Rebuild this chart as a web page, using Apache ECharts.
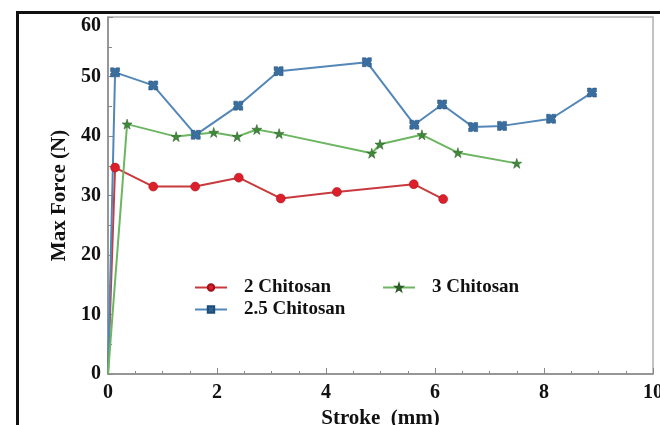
<!DOCTYPE html>
<html>
<head>
<meta charset="utf-8">
<script src="https://cdn.jsdelivr.net/npm/echarts@6/dist/echarts.min.js"></script>
<style>
  html, body { margin: 0; padding: 0; background: #fff; }
  #chart { width: 660px; height: 425px; }
</style>
</head>
<body>
<div id="chart"></div>
<script>
// stroke (mm) and max force (N)
const strokeA = [0, 0.13, 0.83, 1.6, 2.4, 3.17, 4.2, 5.61, 6.15];
const forceA = [0, 34.7, 31.5, 31.5, 33.0, 29.5, 30.6, 31.9, 29.4];

const strokeB = [0, 0.13, 0.83, 1.61, 2.39, 3.13, 4.75, 5.62, 6.13, 6.7, 7.23, 8.13, 8.88];
const forceB = [0, 50.7, 48.5, 40.2, 45.1, 50.9, 52.4, 41.9, 45.3, 41.5, 41.7, 42.9, 47.3];

const strokeC = [0, 0.35, 1.25, 1.94, 2.37, 2.73, 3.14, 4.84, 4.99, 5.76, 6.42, 7.5];
const forceC = [0, 42.0, 39.9, 40.6, 39.9, 41.1, 40.4, 37.1, 38.6, 40.2, 37.2, 35.4];

const seriesNames = ['2 Chitosan', '2.5 Chitosan', '3 Chitosan'];

const pairs = (xs, ys) => xs.map((x, i) => [x, ys[i]]);

const FONT = '"Liberation Serif", "Times New Roman", serif';
const xBox = 'path://M0,0 L4,0 L5,1.5 L6,0 L10,0 L10,4 L8.5,5 L10,6 L10,10 L6,10 L5,8.5 L4,10 L0,10 L0,6 L1.5,5 L0,4 Z';
const star = 'path://M5,0 L6.2,3.6 L10,3.6 L7,5.9 L8.1,9.5 L5,7.3 L1.9,9.5 L3,5.9 L0,3.6 L3.8,3.6 Z';

const chart = echarts.init(document.getElementById('chart'));

const legendText = {
  fontFamily: FONT,
  fontWeight: 'bold',
  fontSize: 19,
  lineHeight: 19,
  color: '#111',
  padding: [0, 0, 0, 12]
};

const option = {
  backgroundColor: '#fff',
  animation: false,
  grid: {
    left: 108,
    right: 7,
    top: 17,
    bottom: 51,
    outerBoundsMode: 'none',
    show: true,
    borderColor: '#b0b0b0',
    borderWidth: 1.5
  },
  legend: [
    {
      data: [seriesNames[0], seriesNames[1]],
      orient: 'vertical',
      left: 189,
      top: 273,
      itemWidth: 32,
      itemHeight: 8,
      itemGap: 3,
      textStyle: legendText
    },
    {
      data: [seriesNames[2]],
      orient: 'vertical',
      left: 377,
      top: 273,
      itemWidth: 32,
      itemHeight: 8,
      textStyle: legendText
    }
  ],
  xAxis: {
    type: 'value',
    min: 0,
    max: 10,
    interval: 2,
    name: 'Stroke  (mm)',
    nameLocation: 'middle',
    nameGap: 27,
    nameTextStyle: { fontFamily: FONT, fontWeight: 'bold', fontSize: 21, color: '#111' },
    axisLine: { lineStyle: { color: '#888', width: 1.5 } },
    axisTick: { inside: true, length: 6, lineStyle: { color: '#888' } },
    minorTick: { show: true, splitNumber: 4, length: 3, lineStyle: { color: '#888' } },
    splitLine: { show: false },
    axisLabel: { fontFamily: FONT, fontWeight: 'bold', fontSize: 20, color: '#111', margin: 9 }
  },
  yAxis: {
    type: 'value',
    min: 0,
    max: 60,
    interval: 10,
    name: 'Max Force (N)',
    nameLocation: 'middle',
    nameGap: 37,
    nameTextStyle: { fontFamily: FONT, fontWeight: 'bold', fontSize: 21, color: '#111' },
    axisLine: { show: true, lineStyle: { color: '#888', width: 1.5 } },
    axisTick: { show: true, inside: true, length: 5, lineStyle: { color: '#888' } },
    minorTick: { show: true, splitNumber: 2, length: 4, lineStyle: { color: '#888' } },
    splitLine: { show: false },
    axisLabel: {
      fontFamily: FONT,
      fontWeight: 'bold',
      fontSize: 20,
      color: '#111',
      margin: 7,
      // top label sits a little lower in the original
      formatter: (v) => (v === 60 ? '{t|60}' : String(v)),
      rich: { t: { fontFamily: FONT, fontWeight: 'bold', fontSize: 20, color: '#111', padding: [18, 0, 0, 0] } }
    }
  },
  graphic: [
    {
      type: 'rect',
      left: 15,
      top: 10,
      shape: { width: 660, height: 440 },
      style: { fill: 'none', stroke: '#111', lineWidth: 3 },
      silent: true
    }
  ],
  series: [
    {
      name: seriesNames[0],
      type: 'line',
      data: pairs(strokeA, forceA),
      symbol: 'circle',
      symbolSize: 9,
      showSymbol: true,
      lineStyle: { color: '#c83a3e', width: 2 },
      itemStyle: { color: '#dc1f2a', borderColor: '#a01018', borderWidth: 0.5 }
    },
    {
      name: seriesNames[1],
      type: 'line',
      data: pairs(strokeB, forceB),
      symbol: xBox,
      symbolSize: 9,
      lineStyle: { color: '#5387b8', width: 2 },
      itemStyle: { color: '#3a6e9f', borderColor: '#1e4c78', borderWidth: 0.5 }
    },
    {
      name: seriesNames[2],
      type: 'line',
      data: pairs(strokeC, forceC),
      symbol: star,
      symbolSize: 10,
      lineStyle: { color: '#6cb661', width: 2 },
      itemStyle: { color: '#3f8a3a', borderColor: '#2a5a26', borderWidth: 0.5 }
    }
  ]
};

// the origin point has no visible marker
option.series.forEach((s) => {
  s.data[0] = { value: s.data[0], symbolSize: 0 };
});

chart.setOption(option);
</script>
</body>
</html>
